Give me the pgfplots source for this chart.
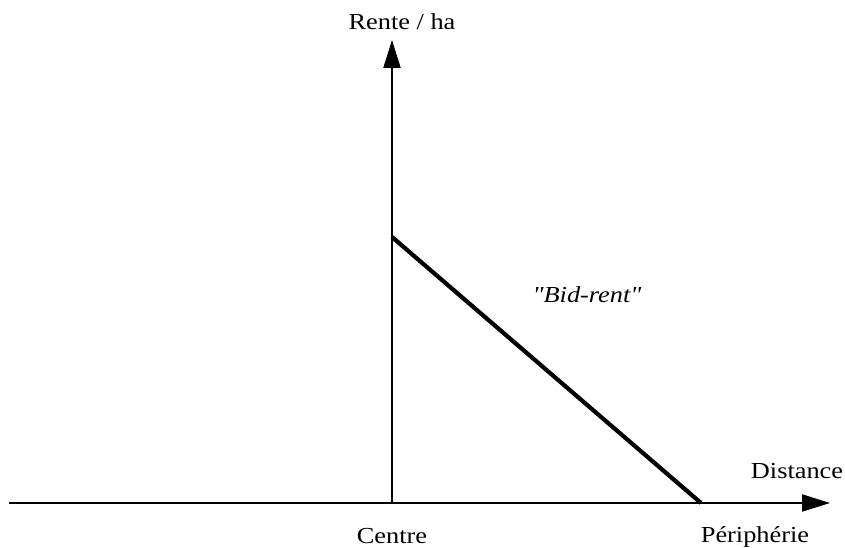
\documentclass[border=0pt]{standalone}
\usepackage{fontspec}
\setmainfont{Liberation Serif}[FakeStretch=1.15]
\newfontfamily\plainserif{Liberation Serif}[FakeStretch=1.15]
\usepackage{pgfplots}
\pgfplotsset{compat=1.18}
\usetikzlibrary{arrows.meta}
\newcommand{\lbl}{\fontsize{23}{27}\selectfont}
\begin{document}
\begin{tikzpicture}
\begin{axis}[
  scale only axis,
  width=821bp, height=463bp,
  xmin=-383, xmax=438, ymin=0, ymax=463,
  axis lines=middle,
  axis line style={line width=2bp, -{Triangle[length=28bp,width=17bp]}},
  xtick=\empty, ytick=\empty,
  clip=false,
]
\path (axis cs:-392,-45) rectangle (axis cs:453,503);
\addplot[line width=4.2bp, black] coordinates {(0,266) (309,0)};
\node[anchor=base, inner sep=0pt] at (axis cs:10,473) {\lbl Rente / ha};
\node[anchor=base, inner sep=0pt] at (axis cs:405,25) {\lbl Distance};
\node[anchor=base, inner sep=0pt] at (axis cs:0,-40) {\lbl Centre};
\node[anchor=base, inner sep=0pt] at (axis cs:363,-39) {\lbl Périphérie};
\node[anchor=base, inner sep=0pt] at (axis cs:195,200) {\plainserif\lbl\itshape "Bid-rent"};
\end{axis}
\end{tikzpicture}
\end{document}
